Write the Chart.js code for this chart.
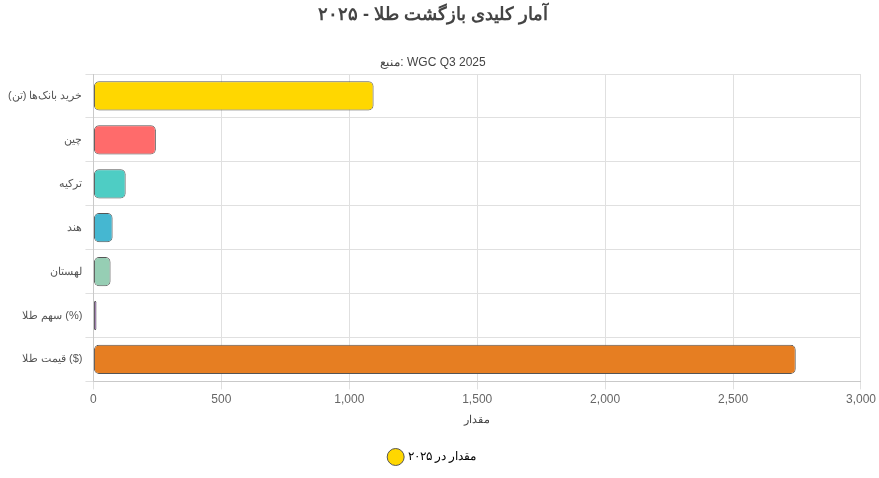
<!DOCTYPE html>
<html><head><meta charset="utf-8">
<script src="https://cdn.jsdelivr.net/npm/chart.js@4"></script>
<style>body{margin:0;background:#fff}#wrap{width:879px;height:478px}</style>
</head><body><div id="wrap"><canvas id="c"></canvas></div>
<script>
// داده‌ها
const categories = ['خرید بانک‌ها (تن)', 'چین', 'ترکیه', 'هند', 'لهستان', 'سهم طلا (%)', 'قیمت طلا ($)'];
const values = [1095, 244, 126, 75, 67, 12, 2745];
const barColors = ['#FFD700', '#FF6B6B', '#4ECDC4', '#45B7D1', '#96CEB4', '#9B59B6', '#E67E22'];
const xTicks = [0, 500, 1000, 1500, 2000, 2500, 3000];

Chart.defaults.font.family = 'Arial, "Liberation Sans", sans-serif';
Chart.defaults.color = '#666';

new Chart(document.getElementById('c'), {
    type: 'bar',
    data: {
        labels: categories,
        datasets: [{
            label: 'مقدار در ۲۰۲۵',
            data: values,
            backgroundColor: barColors,
            borderColor: '#555',
            borderWidth: 1,
            borderRadius: 5,
            borderSkipped: false,
            barPercentage: 0.95,
            categoryPercentage: 0.7
        }]
    },
    options: {
        indexAxis: 'y',
        responsive: true,
        maintainAspectRatio: false,
        animation: false,
        layout: { padding: { left: 5, right: 18, top: 0, bottom: 5 } },
        plugins: {
            title: { display: true, text: 'آمار کلیدی بازگشت طلا - ۲۰۲۵', font: { size: 18, weight: 'bold' }, color: '#444', padding: { top: 4, bottom: 30 } },
            subtitle: { display: true, text: 'منبع: WGC Q3 2025', font: { size: 12 }, color: '#444', padding: { bottom: 4 } },
            legend: {
                position: 'bottom',
                labels: {
                    usePointStyle: true, pointStyle: 'circle', color: '#444', font: { size: 12 }, padding: 20,
                    generateLabels: () => [{ text: 'مقدار در ۲۰۲۵', fillStyle: barColors[0], strokeStyle: '#555', lineWidth: 1, pointStyle: 'circle' }]
                }
            }
        },
        scales: {
            x: {
                min: xTicks[0], max: xTicks[xTicks.length - 1],
                ticks: { stepSize: 500, font: { size: 12 } },
                grid: { color: '#e0e0e0' },
                title: { display: true, text: 'مقدار', font: { size: 11 }, color: '#444' }
            },
            y: {
                ticks: { font: { size: 11 }, color: '#555' },
                grid: { color: '#e0e0e0' }
            }
        }
    }
});
</script></body></html>
